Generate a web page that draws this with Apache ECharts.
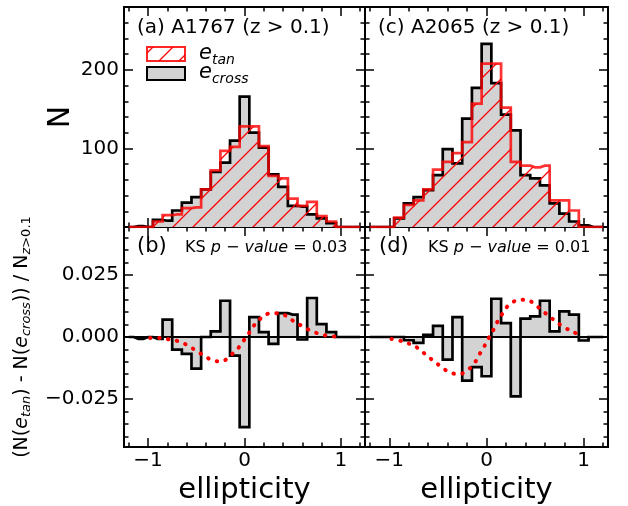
<!DOCTYPE html>
<html>
<head>
<meta charset="utf-8">
<script src="https://cdn.jsdelivr.net/npm/echarts@6.0.0/dist/echarts.min.js"></script>
<style>
html,body{margin:0;padding:0;background:#fff}
#chart{width:628px;height:506px}
</style>
</head>
<body>
<div id="chart"></div>
<script>
// bin centres (width 0.1)
var binCenters = [-1.2,-1.1,-1.0,-0.9,-0.8,-0.7,-0.6,-0.5,-0.4,-0.3,-0.2,-0.1,0.0,0.1,0.2,0.3,0.4,0.5,0.6,0.7,0.8,0.9,1.0,1.1,1.2];

// (a) A1767
var crossA = [0,1,0,9,8,21,31,38,48,70,82,110,166,120,101,67,51,27,26,16,11,5,0,0,0];
var tanA   = [0,0,0,7,15,16,24,25,48,72,97,102,128,128,103,65,62,36,27,32,14,7,0,0,0];
// (c) A2065
var crossC = [0,0,0,11,30,38,47,66,99,81,138,177,233,183,143,123,66,62,53,30,17,7,2,0,0];
var tanC   = [0,0,0,12,28,34,48,73,83,94,108,157,208,208,152,83,78,76,78,34,34,21,0,0,0];

// (b), (d) normalised differences
var diffB = [0,-0.0008,0,-0.0008,0.0070,-0.0051,-0.0068,-0.0127,0,0.0023,0.0146,-0.0075,-0.0363,0.0080,0.0020,-0.0028,0.0096,0.0090,-0.0010,0.0157,0.0052,0.0020,0,0,0];
var diffD = [0,0,0,0,-0.0013,-0.0024,0.0009,0.0045,-0.0091,0.0080,-0.0176,-0.0121,-0.0158,0.0154,0.0056,-0.0239,0.0074,0.0083,0.0146,0.0023,0.0103,0.0090,-0.0014,0,0];

// red dotted curves
var curveBx = [-0.979,-0.876,-0.779,-0.679,-0.589,-0.503,-0.42,-0.33,-0.237,-0.15,-0.081,-0.019,0.04,0.091,0.16,0.247,0.334,0.427,0.513,0.603,0.689,0.782,0.879,0.979];
var curveBy = [-0.0004,-0.0004,-0.001,-0.0018,-0.0034,-0.0055,-0.0075,-0.0094,-0.0098,-0.0075,-0.0052,-0.002,0.0012,0.0043,0.0072,0.0094,0.0096,0.0086,0.0063,0.0043,0.0025,0.0012,0.0004,0.0002];
var curveDx = [-0.977,-0.885,-0.789,-0.693,-0.617,-0.541,-0.462,-0.383,-0.284,-0.198,-0.126,-0.074,-0.026,0.019,0.070,0.115,0.167,0.225,0.304,0.404,0.490,0.569,0.648,0.723,0.799,0.895,0.991];
var curveDy = [-0.0008,-0.0015,-0.0028,-0.0048,-0.0074,-0.0097,-0.0121,-0.0141,-0.015,-0.0134,-0.0106,-0.0071,-0.004,-0.0007,0.0028,0.0063,0.0096,0.0127,0.0146,0.015,0.0134,0.0107,0.0083,0.0059,0.004,0.0019,0.0009];

// ticks
var xMajor = [-1,0,1];
var xMinor = [-1.2,-1.0,-0.8,-0.6,-0.4,-0.2,0,0.2,0.4,0.6,0.8,1.0,1.2];
var nMajor = [0,100,200];
var nLabels = [100,200];
var nMinor = [20,40,60,80,120,140,160,180,220,240,260];
var dMajor = [-0.025,0,0.025];
var dMinor = [-0.04,-0.035,-0.03,-0.02,-0.015,-0.01,-0.005,0.005,0.01,0.015,0.02,0.03,0.035,0.04];

var FONT = 'DejaVu Sans';

function hatch() {
    var c = document.createElement('canvas');
    c.width = 20; c.height = 20;
    var g = c.getContext('2d');
    g.strokeStyle = '#ff0000';
    g.lineWidth = 1.3;
    g.beginPath();
    g.moveTo(0,20); g.lineTo(20,0);
    g.moveTo(-2,2); g.lineTo(2,-2);
    g.moveTo(18,22); g.lineTo(22,18);
    g.stroke();
    return c;
}
var hatchImg = hatch();

function minus(v, d) {
    var s = d == null ? String(Math.abs(v)) : Math.abs(v).toFixed(d);
    return (v < 0 ? '\u2212' : '') + s;
}

var grids = [
    {left:124, top:7, width:241, height:220},
    {left:365, top:7, width:243, height:220},
    {left:124, top:227, width:241, height:220},
    {left:365, top:227, width:243, height:220}
];
grids.forEach(function (g) {
    g.show = true; g.borderColor = '#000'; g.borderWidth = 2;
    g.backgroundColor = 'transparent'; g.outerBoundsMode = 'none';
});

var xAxes = [], yAxes = [];
function tick(len, vals) {
    return {show:true, inside:true, length:len, customValues:vals, lineStyle:{color:'#000', width:1.5}};
}
function addAxes(gi, isTop, isLeft) {
    var xi = xAxes.length, yi = yAxes.length;
    [['bottom',xMajor,9],['bottom',xMinor,4.5],['top',xMajor,9],['top',xMinor,4.5]].forEach(function (a, k) {
        var ax = {
            gridIndex:gi, type:'value', min:-1.25, max:1.25, position:a[0],
            axisLine:{show:false, onZero:false}, splitLine:{show:false},
            axisTick:tick(a[2], a[1]), axisLabel:{show:false}
        };
        if (k === 0 && !isTop) {
            ax.axisLabel = {show:true, customValues:xMajor, margin:4, color:'#000',
                fontFamily:FONT, fontSize:20, formatter:function (v) { return minus(v); }};
            ax.name = 'ellipticity';
            ax.nameLocation = 'middle';
            ax.nameGap = 29;
            ax.nameTextStyle = {fontFamily:FONT, fontSize:29, color:'#000'};
        }
        xAxes.push(ax);
    });
    var ymin = isTop ? 0 : -0.0443, ymax = isTop ? 280 : 0.0443;
    var maj = isTop ? nMajor : dMajor, mnr = isTop ? nMinor : dMinor;
    [['left',maj,9],['left',mnr,4.5],['right',maj,9],['right',mnr,4.5]].forEach(function (a, k) {
        var ax = {
            gridIndex:gi, type:'value', min:ymin, max:ymax, position:a[0],
            axisLine:{show:false, onZero:false}, splitLine:{show:false},
            axisTick:tick(a[2], a[1]), axisLabel:{show:false}
        };
        if (k === 0 && isLeft) {
            ax.axisLabel = {show:true, customValues:isTop ? nLabels : dMajor, margin:5, color:'#000',
                fontFamily:FONT, fontSize:20,
                formatter:function (v) { return isTop ? String(v) : minus(v, 3); }};
            ax.nameLocation = 'middle';
            if (isTop) {
                ax.name = 'N';
                ax.nameGap = 48;
                ax.nameTextStyle = {fontFamily:FONT, fontSize:30, color:'#000'};
            } else {
                ax.name = '(N({i|e}{s|tan}) - N({i|e}{s|cross})) / N{z|z}{s2|>0.1}';
                ax.nameGap = 91;
                ax.nameTextStyle = {fontFamily:FONT, fontSize:19, color:'#000',
                    rich:{
                        i:{fontFamily:FONT, fontSize:19, fontStyle:'italic', color:'#000'},
                        s:{fontFamily:FONT, fontSize:13, fontStyle:'italic', color:'#000', verticalAlign:'bottom', padding:[9,0,0,0]},
                        z:{fontFamily:FONT, fontSize:13, fontStyle:'italic', color:'#000', verticalAlign:'bottom', padding:[9,0,0,0]},
                        s2:{fontFamily:FONT, fontSize:13, color:'#000', verticalAlign:'bottom', padding:[9,0,0,0]}
                    }};
            }
        }
        yAxes.push(ax);
    });
    return {x:xi, y:yi};
}

var axA = addAxes(0, true, true);
var axC = addAxes(1, true, false);
var axB = addAxes(2, false, true);
var axD = addAxes(3, false, false);

function pairs(xs, ys) { return xs.map(function (x, i) { return [x, ys[i]]; }); }

function histSeries(ax, vals, kind) {
    var s = {
        type:'line', xAxisIndex:ax.x, yAxisIndex:ax.y, step:'middle', symbol:'none',
        data:pairs(binCenters, vals), silent:true, animation:false
    };
    if (kind === 'tan') {
        s.lineStyle = {color:'rgba(255,0,0,0.8)', width:2.7, join:'miter'};
        s.areaStyle = {color:{image:hatchImg, repeat:'repeat'}, opacity:1};
        s.z = 3;
    } else {
        s.lineStyle = {color:'#000', width:2.7, join:'miter'};
        s.areaStyle = {color:'#d3d3d3', opacity:1, origin:0};
        s.z = 2;
    }
    return s;
}
function zeroLine(ax) {
    return {
        type:'line', xAxisIndex:ax.x, yAxisIndex:ax.y, data:[], silent:true, animation:false, z:4,
        markLine:{silent:true, symbol:'none', label:{show:false}, animation:false,
            lineStyle:{color:'#000', width:2, type:'solid'}, data:[{yAxis:0}]}
    };
}
function curveSeries(ax, xs, ys) {
    return {
        type:'line', xAxisIndex:ax.x, yAxisIndex:ax.y, smooth:0.4, symbol:'none',
        data:pairs(xs, ys), silent:true, animation:false, z:5,
        lineStyle:{color:'#ff0000', width:4, type:[0.5, 8.5], cap:'round'}
    };
}

var series = [
    histSeries(axA, crossA, 'cross'), histSeries(axA, tanA, 'tan'),
    histSeries(axC, crossC, 'cross'), histSeries(axC, tanC, 'tan'),
    histSeries(axB, diffB, 'cross'), zeroLine(axB), curveSeries(axB, curveBx, curveBy),
    histSeries(axD, diffD, 'cross'), zeroLine(axD), curveSeries(axD, curveDx, curveDy)
];

function txt(x, y, text, size, rich) {
    var st = {text:text, fontFamily:FONT, fontSize:size, fill:'#000', align:'left', verticalAlign:'middle'};
    if (rich) st.rich = rich;
    return {type:'text', x:x, y:y, z:10, style:st};
}
var ksRich = {
    n:{fontFamily:FONT, fontSize:16, fill:'#000'},
    i:{fontFamily:FONT, fontSize:16, fontStyle:'italic', fill:'#000'}
};
var legRich = {
    e:{fontFamily:FONT, fontSize:21, fontStyle:'italic', fill:'#000', verticalAlign:'top'},
    s:{fontFamily:FONT, fontSize:14, fontStyle:'italic', fill:'#000', verticalAlign:'bottom', padding:[10,0,0,0]}
};

var graphic = [
    txt(137, 28, '(a) A1767 (z > 0.1)', 20),
    txt(378, 28, '(c) A2065 (z > 0.1)', 20),
    txt(137, 247, '(b)', 21),
    txt(379, 247, '(d)', 21),
    txt(185, 248, '{n|KS }{i|p}{n| \u2212 }{i|value}{n| = 0.03}', 16, ksRich),
    txt(428, 248, '{n|KS }{i|p}{n| \u2212 }{i|value}{n| = 0.01}', 16, ksRich),
    {type:'rect', z:10, shape:{x:147, y:47, width:38, height:14},
        style:{fill:{image:hatchImg, repeat:'repeat'}, stroke:'rgba(255,0,0,0.85)', lineWidth:2}},
    {type:'rect', z:10, shape:{x:147, y:67, width:38, height:13},
        style:{fill:'#d3d3d3', stroke:'#000', lineWidth:2}},
    txt(199, 55, '{e|e}{s|tan}', 21, legRich),
    txt(199, 74, '{e|e}{s|cross}', 21, legRich)
];

var chart = echarts.init(document.getElementById('chart'), null, {renderer:'canvas'});
chart.setOption({
    animation:false,
    backgroundColor:'#fff',
    grid:grids,
    xAxis:xAxes,
    yAxis:yAxes,
    series:series,
    graphic:graphic
});
</script>
</body>
</html>
